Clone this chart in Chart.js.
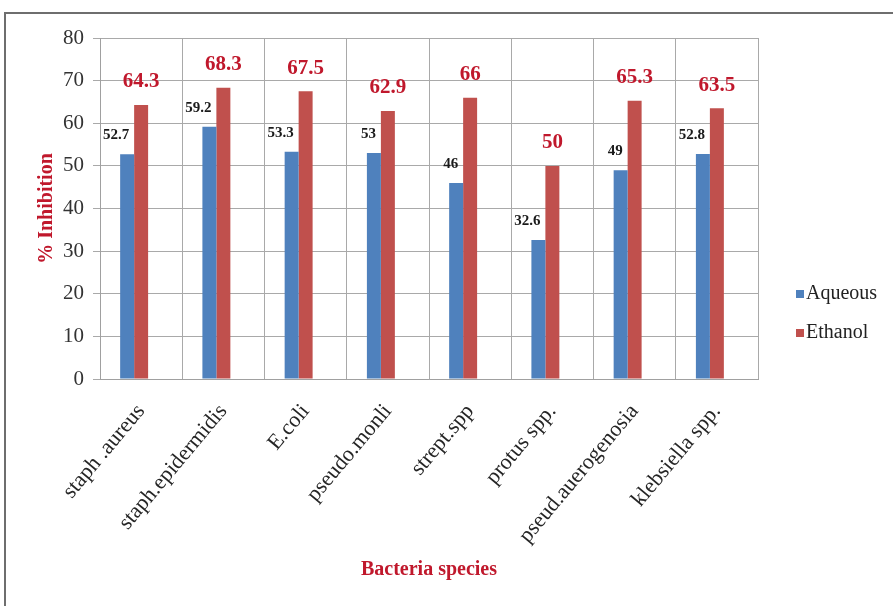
<!DOCTYPE html>
<html>
<head>
<meta charset="utf-8">
<script src="https://cdn.jsdelivr.net/npm/chart.js@4/dist/chart.umd.min.js"></script>
<style>
  html, body { margin: 0; padding: 0; background: #ffffff; }
  #wrap { width: 893px; height: 606px; position: relative; }
</style>
</head>
<body>
<div id="wrap"><canvas id="c" width="893" height="606"></canvas></div>
<script>
// Bacteria tested and % inhibition for each extract
const bacteria = ['staph .aureus', 'staph.epidermidis', 'E.coli', 'pseudo.monli',
                  'strept.spp', 'protus spp.', 'pseud.auerogenosia', 'klebsiella spp.'];
const aqueous = [52.7, 59.2, 53.3, 53, 46, 32.6, 49, 52.8];
const ethanol = [64.3, 68.3, 67.5, 62.9, 66, 50, 65.3, 63.5];
// third slot of each group is left empty in the source sheet
const emptySlot = [null, null, null, null, null, null, null, null];
const yTicks = [0, 10, 20, 30, 40, 50, 60, 70, 80];

const SERIF = '"Liberation Serif", "Times New Roman", serif';
const BLUE = '#4F81BD';
const RED = '#C0504D';
const TITLE_RED = '#C0182C';

// Frame around the figure (top and left edges)
const framePlugin = {
  id: 'frame',
  beforeDraw(chart) {
    const ctx = chart.ctx;
    ctx.save();
    ctx.fillStyle = '#ffffff';
    ctx.fillRect(0, 0, chart.width, chart.height);
    ctx.strokeStyle = '#6e6e6e';
    ctx.lineWidth = 2;
    ctx.beginPath();
    ctx.moveTo(chart.width, 13);
    ctx.lineTo(5, 13);
    ctx.lineTo(5, chart.height);
    ctx.stroke();
    ctx.restore();
  }
};

// Value labels above the bars
const valueLabels = {
  id: 'valueLabels',
  afterDatasetsDraw(chart) {
    const ctx = chart.ctx;
    ctx.save();
    [0, 1].forEach((di) => {
      const ds = chart.data.datasets[di];
      const meta = chart.getDatasetMeta(di);
      meta.data.forEach((bar, i) => {
        const v = ds.data[i];
        if (di === 0) {
          ctx.font = 'bold 15px ' + SERIF;
          ctx.fillStyle = '#1a1a1a';
          ctx.textAlign = 'right';
          ctx.textBaseline = 'middle';
          ctx.fillText(String(v), bar.x + 2, bar.y - 19);
        } else {
          ctx.font = 'bold 21px ' + SERIF;
          ctx.fillStyle = TITLE_RED;
          ctx.textAlign = 'center';
          ctx.textBaseline = 'middle';
          ctx.fillText(String(v), bar.x, bar.y - 23);
        }
      });
    });
    ctx.restore();
  }
};

// Series key on the right of the plot
const sideLegend = {
  id: 'sideLegend',
  afterDraw(chart) {
    const ctx = chart.ctx;
    const area = chart.chartArea;
    const x0 = area.right + 38;
    const rows = [294, 333];
    ctx.save();
    ctx.font = '20px ' + SERIF;
    ctx.textAlign = 'left';
    ctx.textBaseline = 'middle';
    [0, 1].forEach((i) => {
      const ds = chart.data.datasets[i];
      const y = rows[i];
      ctx.fillStyle = ds.backgroundColor;
      ctx.fillRect(x0, y - 4, 8, 8);
      ctx.fillStyle = '#222222';
      ctx.fillText(ds.label, x0 + 10, y);
    });
    ctx.restore();
  }
};

new Chart(document.getElementById('c'), {
  type: 'bar',
  data: {
    labels: bacteria,
    datasets: [
      { label: 'Aqueous', data: aqueous, backgroundColor: BLUE, borderWidth: 0 },
      { label: 'Ethanol', data: ethanol, backgroundColor: RED, borderWidth: 0 },
      { label: 'Series3', data: emptySlot, backgroundColor: '#9BBB59', borderWidth: 0 }
    ]
  },
  plugins: [framePlugin, valueLabels, sideLegend],
  options: {
    responsive: false,
    animation: false,
    layout: { padding: { left: 30, top: 38, right: 135, bottom: 0 } },
    datasets: { bar: { categoryPercentage: 0.51, barPercentage: 1.0 } },
    plugins: {
      legend: { display: false },
      tooltip: { enabled: false }
    },
    scales: {
      x: {
        grid: { color: '#a9a9a9', lineWidth: 1, drawTicks: false, offset: true },
        border: { color: '#a0a0a0' },
        ticks: {
          color: '#262626',
          font: { family: SERIF, size: 22 },
          minRotation: 50,
          maxRotation: 50,
          padding: 20,
          autoSkip: false
        },
        title: {
          display: true,
          text: 'Bacteria species',
          color: TITLE_RED,
          font: { family: SERIF, size: 20, weight: 'bold' },
          padding: { top: 0, bottom: 24 }
        },
        afterFit(scale) { scale.height = 606 - 379; }
      },
      y: {
        min: 0,
        max: 80,
        afterBuildTicks(scale) { scale.ticks = yTicks.map(v => ({ value: v })); },
        grid: { color: '#a9a9a9', lineWidth: 1, tickLength: 7 },
        border: { color: '#a0a0a0' },
        ticks: {
          color: '#333333',
          font: { family: SERIF, size: 21 },
          padding: 9
        },
        title: {
          display: true,
          text: '% Inhibition',
          color: TITLE_RED,
          font: { family: SERIF, size: 20, weight: 'bold' },
          padding: { top: 5, bottom: 0 }
        },
        afterFit(scale) { scale.width = 70; }
      }
    }
  }
});
</script>
</body>
</html>
